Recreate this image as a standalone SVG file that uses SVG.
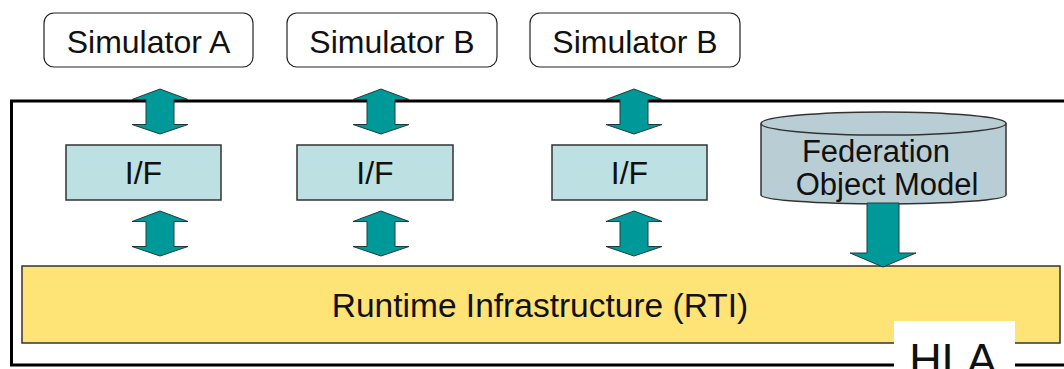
<svg xmlns="http://www.w3.org/2000/svg" xmlns:xlink="http://www.w3.org/1999/xlink" width="1064" height="369" viewBox="0 0 1064 369">
  <style>
    text { font-family: "Liberation Sans", Arial, sans-serif; fill: #111; text-anchor: middle; }
    .sim { fill: #fff; stroke: #222; stroke-width: 1.2; }
    .if { fill: #bde0e2; stroke: #333; stroke-width: 1.5; }
    .arrow { fill: #009999; stroke: #1e3c3c; stroke-width: 1; }
    .lbl { font-size: 32px; }
  </style>
  <defs>
    <path id="dbl" d="M0,0 L28,10.5 L14,10.5 L14,35.5 L28,35.5 L0,45 L-28,35.5 L-14,35.5 L-14,10.5 L-28,10.5 Z"/>
  </defs>
  <rect x="0" y="0" width="1064" height="369" fill="#fff"/>
  <g id="hla-frame">
    <rect x="11.5" y="101" width="1070" height="264" fill="none" stroke="#000" stroke-width="3"/>
  </g>
  <g id="rti">
    <rect x="22" y="266" width="1038" height="77" fill="#fee377" stroke="#333" stroke-width="1.5"/>
    <text x="540" y="317" style="font-size:33.5px">Runtime Infrastructure (RTI)</text>
  </g>
  <g id="hla-label">
    <rect x="894" y="321" width="121" height="60" fill="#fff"/>
    <text x="953" y="375" style="font-size:45px">HLA</text>
  </g>
  <g id="sim-a">
    <rect class="sim" x="44" y="13" width="209" height="54" rx="10"/>
    <text class="lbl" x="148.5" y="53">Simulator A</text>
  </g>
  <g id="sim-b1">
    <rect class="sim" x="287" y="13" width="210" height="54" rx="10"/>
    <text class="lbl" x="392" y="53">Simulator B</text>
  </g>
  <g id="sim-b2">
    <rect class="sim" x="530" y="13" width="210" height="54" rx="10"/>
    <text class="lbl" x="635" y="53">Simulator B</text>
  </g>
  <g id="if-1">
    <rect class="if" x="66" y="145" width="155" height="55"/>
    <text class="lbl" x="143.5" y="184">I/F</text>
  </g>
  <g id="if-2">
    <rect class="if" x="297" y="145" width="156" height="55"/>
    <text class="lbl" x="375" y="184">I/F</text>
  </g>
  <g id="if-3">
    <rect class="if" x="552" y="145" width="155" height="55"/>
    <text class="lbl" x="629.5" y="184">I/F</text>
  </g>
  <g id="fom">
    <path d="M761,123.5 L761,195 A122.5,9 0 0 0 1006,195 L1006,123.5" fill="#b9ced4" stroke="#333" stroke-width="1.5"/>
    <ellipse cx="883.5" cy="123.5" rx="122.5" ry="11.5" fill="#b9ced4" stroke="#333" stroke-width="1.5"/>
    <text x="876" y="162" style="font-size:31px">Federation</text>
    <text x="887" y="195" style="font-size:31px">Object Model</text>
  </g>
  <g id="connectors">
    <use href="#dbl" class="arrow" transform="translate(160,89)"/>
    <use href="#dbl" class="arrow" transform="translate(381,89)"/>
    <use href="#dbl" class="arrow" transform="translate(634,89)"/>
    <use href="#dbl" class="arrow" transform="translate(160,211)"/>
    <use href="#dbl" class="arrow" transform="translate(381,211)"/>
    <use href="#dbl" class="arrow" transform="translate(634,211)"/>
    <path class="arrow" d="M867,203 L899,203 L899,253 L916,253 L883,267 L850,253 L867,253 Z"/>
  </g>
</svg>
